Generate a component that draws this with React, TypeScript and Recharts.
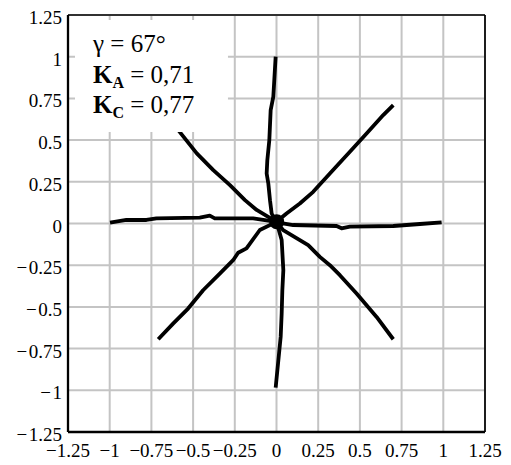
import React from 'react';
import {
  ComposedChart,
  Line,
  Scatter,
  XAxis,
  YAxis,
  CartesianGrid,
  ReferenceArea,
  ReferenceLine,
} from 'recharts';

// Axis ticks (same set on both axes)
const ticks = [-1.25, -1, -0.75, -0.5, -0.25, 0, 0.25, 0.5, 0.75, 1, 1.25];

// Eight traces radiating from the centre
const armUp = [
  { x: -0.009, y: 0.02 }, { x: -0.029, y: 0.06 }, { x: -0.039, y: 0.14 }, { x: -0.049, y: 0.24 },
  { x: -0.059, y: 0.3 }, { x: -0.055, y: 0.38 }, { x: -0.043, y: 0.5 }, { x: -0.035, y: 0.68 },
  { x: -0.019, y: 0.76 }, { x: -0.005, y: 1.0 },
];
const armUpRight = [
  { x: 0.0, y: 0.01 }, { x: 0.06, y: 0.06 }, { x: 0.14, y: 0.12 }, { x: 0.22, y: 0.19 },
  { x: 0.32, y: 0.3 }, { x: 0.44, y: 0.43 }, { x: 0.54, y: 0.54 }, { x: 0.64, y: 0.65 },
  { x: 0.7, y: 0.71 },
];
const armRight = [
  { x: 0.0, y: 0.01 }, { x: 0.02, y: 0.004 }, { x: 0.1, y: -0.009 }, { x: 0.36, y: -0.015 },
  { x: 0.39, y: -0.029 }, { x: 0.44, y: -0.019 }, { x: 0.7, y: -0.015 }, { x: 0.86, y: -0.003 },
  { x: 0.99, y: 0.007 },
];
const armDownRight = [
  { x: 0.0, y: 0.01 }, { x: 0.04, y: -0.04 }, { x: 0.14, y: -0.1 }, { x: 0.19, y: -0.13 },
  { x: 0.26, y: -0.2 }, { x: 0.32, y: -0.25 }, { x: 0.38, y: -0.31 }, { x: 0.48, y: -0.42 },
  { x: 0.6, y: -0.56 }, { x: 0.7, y: -0.694 },
];
const armDown = [
  { x: 0.0, y: 0.01 }, { x: 0.031, y: -0.099 }, { x: 0.041, y: -0.28 }, { x: 0.035, y: -0.4 },
  { x: 0.031, y: -0.54 }, { x: 0.025, y: -0.68 }, { x: -0.005, y: -0.984 },
];
const armDownLeft = [
  { x: 0.0, y: 0.01 }, { x: -0.1, y: -0.039 }, { x: -0.18, y: -0.149 }, { x: -0.23, y: -0.175 },
  { x: -0.26, y: -0.22 }, { x: -0.34, y: -0.3 }, { x: -0.44, y: -0.4 }, { x: -0.53, y: -0.51 },
  { x: -0.62, y: -0.6 }, { x: -0.709, y: -0.694 },
];
const armLeft = [
  { x: 0.0, y: 0.01 }, { x: -0.14, y: 0.031 }, { x: -0.37, y: 0.031 }, { x: -0.4, y: 0.047 },
  { x: -0.46, y: 0.035 }, { x: -0.72, y: 0.031 }, { x: -0.78, y: 0.021 }, { x: -0.9, y: 0.021 },
  { x: -0.998, y: 0.005 },
];
const armUpLeft = [
  { x: 0.0, y: 0.01 }, { x: -0.119, y: 0.081 }, { x: -0.189, y: 0.14 }, { x: -0.279, y: 0.23 },
  { x: -0.379, y: 0.32 }, { x: -0.478, y: 0.42 }, { x: -0.589, y: 0.56 }, { x: -0.66, y: 0.65 },
  { x: -0.7, y: 0.7 },
];
const arms = [armUp, armUpRight, armRight, armDownRight, armDown, armDownLeft, armLeft, armUpLeft];

const centre = [{ x: 0.001, y: 0.011 }];

// Parameter annotation
const gammaText = 'γ = 67°';
const kaValue = '0,71';
const kcValue = '0,77';

const FONT = '"Liberation Serif", "Times New Roman", Times, serif';

const fmt = (v: number) =>
  v === 0 ? '0' : (v < 0 ? '\u2212' : '') + String(Math.abs(v));

const XTick = (props: any) => {
  const { x, y, payload } = props;
  return (
    <text x={x} y={y + 25} textAnchor="middle" fontFamily={FONT} fontSize={19} fill="#000">
      {fmt(payload.value)}
    </text>
  );
};

const YTick = (props: any) => {
  const { x, y, payload } = props;
  const v = payload.value;
  return (
    <text x={x - 6} y={y + 9} textAnchor="end" fontFamily={FONT} fontSize={19} fill="#000">
      {v < 0 ? '\u2212\u200a' + String(Math.abs(v)) : fmt(v)}
    </text>
  );
};

const Annotation = (props: any) => {
  const vb = props.viewBox || {};
  const x0 = vb.x + 18;
  const y0 = vb.y;
  return (
    <g fontFamily={FONT} fill="#000">
      <text x={x0} y={y0 + 32} fontSize={25}>{gammaText}</text>
      <text x={x0} y={y0 + 63} fontSize={25}>
        <tspan fontWeight="bold">K</tspan>
        <tspan fontWeight="bold" fontSize={16} dy={5}>A</tspan>
        <tspan dy={-5}>{' = ' + kaValue}</tspan>
      </text>
      <text x={x0} y={y0 + 93} fontSize={25}>
        <tspan fontWeight="bold">K</tspan>
        <tspan fontWeight="bold" fontSize={16} dy={5}>C</tspan>
        <tspan dy={-5}>{' = ' + kcValue}</tspan>
      </text>
    </g>
  );
};

export default function App() {
  return (
    <div style={{ position: 'absolute', left: 0, top: 0, width: 511, height: 465, background: '#fff' }}>
      <ComposedChart
        width={511}
        height={465}
        margin={{ top: 15, right: 26, bottom: 0, left: 0 }}
      >
        <CartesianGrid stroke="#c4c4c4" strokeWidth={2} />
        <XAxis
          type="number"
          dataKey="x"
          domain={[-1.25, 1.25]}
          ticks={ticks}
          interval={0}
          height={33}
          tickSize={0}
          tickMargin={0}
          tickLine={false}
          axisLine={{ stroke: '#000', strokeWidth: 2.3 }}
          tick={<XTick />}
          allowDataOverflow
        />
        <YAxis
          type="number"
          dataKey="y"
          domain={[-1.25, 1.25]}
          ticks={ticks}
          interval={0}
          width={68}
          tickSize={0}
          tickMargin={0}
          tickLine={false}
          axisLine={{ stroke: '#000', strokeWidth: 2.3 }}
          tick={<YTick />}
          allowDataOverflow
        />
        <ReferenceLine y={1.25} stroke="#000" strokeWidth={1.7} />
        <ReferenceLine x={1.25} stroke="#000" strokeWidth={1.7} />
        {arms.map((arm, i) => (
          <Line
            key={i}
            data={arm}
            dataKey="y"
            type="linear"
            stroke="#000"
            strokeWidth={3.8}
            strokeLinejoin="round"
            strokeLinecap="butt"
            dot={false}
            activeDot={false}
            isAnimationActive={false}
          />
        ))}
        <Scatter
          data={centre}
          dataKey="y"
          fill="#000"
          isAnimationActive={false}
          shape={(p: any) => <circle cx={p.cx} cy={p.cy} r={7.5} fill="#000" />}
        />
        <ReferenceArea
          x1={-1.208}
          x2={-0.291}
          y1={0.549}
          y2={1.22}
          fill="#fff"
          fillOpacity={1}
          stroke="none"
          zIndex={1500}
          label={<Annotation />}
        />
      </ComposedChart>
    </div>
  );
}
